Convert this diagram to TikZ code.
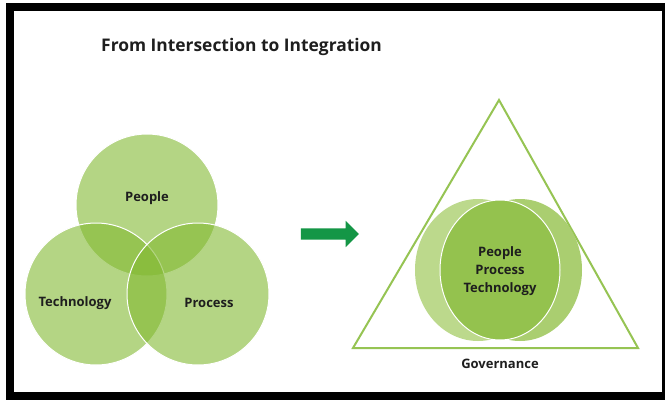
\documentclass[tikz,border=0pt]{standalone}
\usepackage{fontspec}
\setmainfont{Open Sans}
\usetikzlibrary{positioning}
\usetikzlibrary{shapes.geometric}
\usetikzlibrary{shapes.arrows}
\definecolor{venngreen}{RGB}{130,185,50}
\definecolor{edgegreen}{RGB}{150,196,83}
\definecolor{lightgreen}{RGB}{188,217,140}
\definecolor{midgreen}{RGB}{170,206,112}
\definecolor{coregreen}{RGB}{148,194,78}
\definecolor{arrowgreen}{RGB}{20,150,70}
\definecolor{inkgray}{RGB}{30,30,30}

\begin{document}
\begin{tikzpicture}[
		x=1pt,y=-1pt,
		set/.style={circle,fill=venngreen,fill opacity=0.6,draw=white,line width=1pt,minimum size=142pt,inner sep=0pt},
		merged/.style={ellipse,draw=none,inner sep=0pt,minimum height=142pt},
		setname/.style={text=inkgray,font=\bfseries\fontsize{13}{18}\selectfont,align=center,inner sep=0pt},
		bigarrow/.style={single arrow,fill=arrowgreen,draw=none,inner xsep=0pt,inner ysep=5.5pt,single arrow head extend=7.5pt,minimum height=58pt}
	]
		\useasboundingbox (0,0) rectangle (665,400);
		\fill [black] (6,3) rectangle (665,400);
		\fill [white] (14,11) rectangle (662,392);

		\node [setname,anchor=west,font=\bfseries\fontsize{17.4}{20}\selectfont] (title) at (101,47) {From Intersection to Integration};

		% intersection
		\node [set] (people) at (147,205) {};
		\node [set] (technology) at (96,294) {};
		\node [set] (process) at (198,294) {};
		\node [setname] (people_txt) at (147,198) {People};
		\node [setname] (technology_txt) at (75,303) {Technology};
		\node [setname] (process_txt) at (209,303) {Process};

		\node [bigarrow] (shift) at (327,234) {};

		% integration
		\coordinate (apex) at (499,100);
		\coordinate (base_left) at (353,348);
		\coordinate (base_right) at (638,348);
		\draw [edgegreen,line width=2pt] (apex) -- (base_left) -- (base_right) -- cycle;

		\node [merged,fill=lightgreen,minimum width=126pt] (back_left) at (478,270) {};
		\node [merged,fill=midgreen,minimum width=124pt] (back_right) at (520,270) {};
		\node [merged,fill=coregreen,draw=white,line width=1pt,minimum width=120pt,minimum height=140pt] (core) at (500,270) {};
		\node [setname] (core_txt) at (500,271) {People\\Process\\Technology};
		\node [setname,below=11pt of base_left -| core_txt] (governance) {Governance};
	\end{tikzpicture}
\end{document}
